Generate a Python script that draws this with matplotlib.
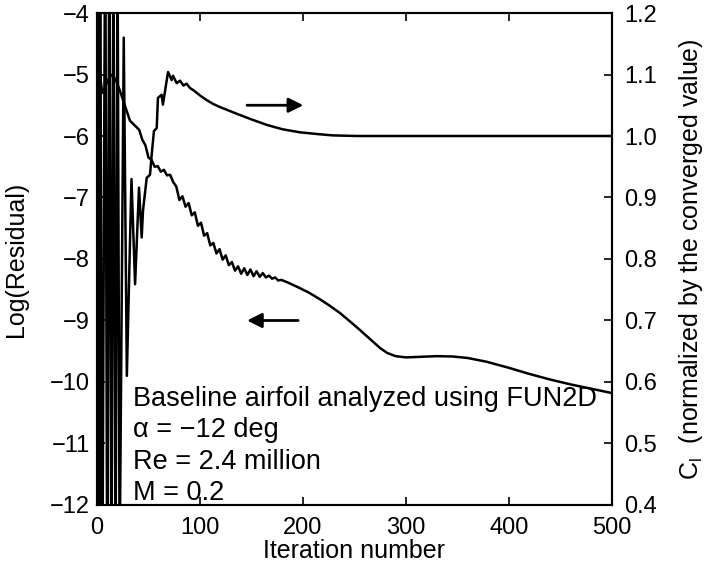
import numpy as np
import matplotlib.pyplot as plt

plt.rcParams['font.family'] = ['Liberation Sans', 'DejaVu Sans']

# residual history (left axis)
res_iter = [0, 3, 5, 8, 12, 15, 19, 22, 25, 29, 32, 35, 38,
            41, 44, 47, 50, 53, 56, 59, 62, 65, 68, 71, 74, 77, 80, 83, 86, 89, 92, 95, 98,
            101, 104, 107, 110, 113, 116, 119, 122, 125, 128, 131, 134, 137, 140, 143, 146,
            149, 152, 155, 158, 161, 164, 167, 170, 173, 176, 179,
            185, 194, 205, 216, 226, 236, 246, 255, 265, 275, 282, 290, 300, 315, 330,
            345, 360, 378, 400, 420, 440, 460, 480, 500]
res_log = [-4.55, -5.0, -5.3, -5.2, -5.05, -5.0, -5.12, -5.25, -5.4, -5.6, -5.75, -5.8, -5.85,
           -5.90, -6.06, -6.15, -6.35, -6.39, -6.50, -6.49, -6.58, -6.55, -6.64, -6.63, -6.75,
           -6.82, -7.04, -6.98, -7.15, -7.09, -7.29, -7.24, -7.46, -7.41, -7.62, -7.58, -7.78,
           -7.74, -7.91, -7.84, -8.01, -7.94, -8.10, -8.05, -8.19, -8.12, -8.24, -8.15, -8.26,
           -8.17, -8.28, -8.20, -8.29, -8.23, -8.30, -8.27, -8.32, -8.30, -8.35, -8.34,
           -8.38, -8.45, -8.54, -8.65, -8.76, -8.88, -9.02, -9.15, -9.30, -9.45, -9.53, -9.58,
           -9.60, -9.59, -9.58, -9.585, -9.61, -9.67, -9.77, -9.87, -9.96, -10.04, -10.11, -10.18]

# lift coefficient history (right axis)
cl_iter = [0, 1, 2, 3, 5, 8, 10, 12, 14, 16, 18, 20, 22, 26, 29, 33.5, 37, 40.8, 43.4, 44.7,
           48.3, 51.5, 53.1, 55.3, 58, 59.2, 62.8, 64, 67, 69, 72.5, 73.8, 77.4, 80.6, 84, 87,
           90.3, 94, 97, 100, 106.8, 113, 119.4, 130, 139, 150, 165, 180, 197, 215, 229, 252,
           300, 400, 500]
cl_val = [0.95, 1.5, 0.2, 1.45, 0.15, 1.4, 0.2, 1.4, 0.25, 1.35, 0.25, 1.3, 0.3, 1.16, 0.61,
          0.93, 0.759, 0.916, 0.835, 0.879, 0.932, 0.937, 0.969, 1.008, 1.013, 1.062, 1.067,
          1.051, 1.083, 1.104, 1.091, 1.098, 1.086, 1.090, 1.082, 1.085, 1.078, 1.074, 1.070,
          1.066, 1.058, 1.052, 1.047, 1.040, 1.034, 1.027, 1.018, 1.011, 1.006, 1.003, 1.001,
          1.0, 1.0, 1.0, 1.0]

notes = ['Baseline airfoil analyzed using FUN2D', '\u03b1 = \u221212 deg',
         'Re = 2.4 million', 'M = 0.2']

fig = plt.figure(figsize=(7.12, 5.73), dpi=100)
ax = fig.add_axes([0.1362, 0.1187, 0.7233, 0.8586])
ax2 = ax.twinx()

ax.plot(res_iter, res_log, color='k', lw=1.8)
ax2.plot(cl_iter, cl_val, color='k', lw=1.8)

ax.set_xlim(0, 500)
ax.set_ylim(-12, -4)
ax2.set_ylim(0.4, 1.2)
ax.set_xticks(np.arange(0, 501, 100))
ax.set_yticks(np.arange(-12, -3, 1))
ax2.set_yticks(np.arange(0.4, 1.21, 0.1))
ax2.set_yticklabels(['%.1f' % v for v in np.arange(0.4, 1.21, 0.1)])

ax.tick_params(direction='in', length=6, width=1.2, labelsize=17, top=True, right=False)
ax.tick_params(axis='x', pad=9)
ax.tick_params(axis='y', pad=5)
ax2.tick_params(direction='in', length=6, width=1.2, labelsize=17, pad=9)
for a in (ax, ax2):
    for s in a.spines.values():
        s.set_linewidth(1.5)

ax.set_xlabel('Iteration number', fontsize=18, labelpad=0)
ax.set_ylabel('Log(Residual)', fontsize=18, labelpad=16)
ax2.set_ylabel('C$_\\mathregular{l}$  (normalized by the converged value)', fontsize=18, labelpad=14)

arrow = dict(arrowstyle='-|>', lw=2, color='k', mutation_scale=22)
ax.annotate('', xy=(203, -5.5), xytext=(143, -5.5), arrowprops=arrow)
ax.annotate('', xy=(143, -9.0), xytext=(198, -9.0), arrowprops=arrow)

for txt, yy in zip(notes, [-10.39, -10.89, -11.41, -11.92]):
    ax.text(35, yy, txt, fontsize=19.5, va='baseline', ha='left')

fig.savefig('out.png', dpi=100)
